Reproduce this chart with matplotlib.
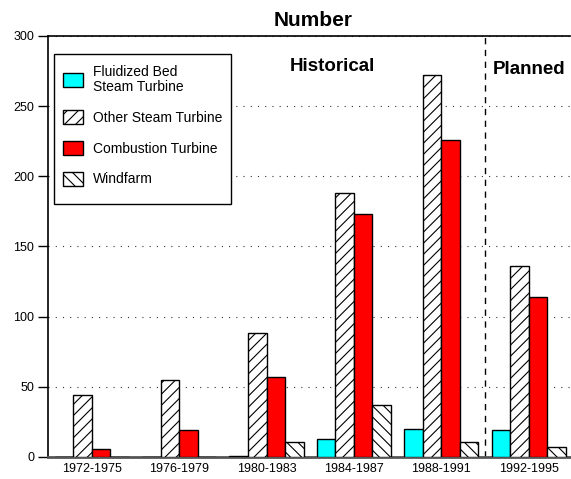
import matplotlib.pyplot as plt
import numpy as np
from matplotlib.patches import Rectangle

plt.rcParams['font.family'] = ['Liberation Sans', 'DejaVu Sans']
plt.rcParams['hatch.linewidth'] = 0.8

periods = ['1972-1975', '1976-1979', '1980-1983', '1984-1987', '1988-1991', '1992-1995']
fluidized = [0, 0, 1, 13, 20, 19]
other_steam = [44, 55, 88, 188, 272, 136]
combustion = [6, 19, 57, 173, 226, 114]
windfarm = [0, 0, 11, 37, 11, 7]

series = [
    ('Fluidized Bed\nSteam Turbine', fluidized, '#00ffff', None),
    ('Other Steam Turbine', other_steam, 'white', '///'),
    ('Combustion Turbine', combustion, '#ff0000', None),
    ('Windfarm', windfarm, 'white', '\\\\\\'),
]

fig = plt.figure(figsize=(5.71, 4.79), dpi=100)
ax = fig.add_axes([0.084, 0.046, 0.914, 0.879])

x = np.arange(len(periods))
width = 0.212
for i, (label, vals, color, hatch) in enumerate(series):
    ax.bar(x + (i - 1.5) * width, vals, width, color=color, hatch=hatch,
           edgecolor='black', linewidth=1.0, label=label, zorder=3)

ax.set_xlim(-0.5, 5.47)
ax.set_ylim(0, 300)
ax.set_yticks(range(0, 301, 50))
ax.set_xticks(x)
ax.set_xticklabels(periods, fontsize=9)
ax.tick_params(axis='x', length=0, pad=4)
ax.tick_params(axis='y', length=7, width=1, labelsize=9, pad=3)

ax.yaxis.grid(True, linestyle=(0, (1, 5.5)), color='#333333', linewidth=0.8, zorder=1)
ax.spines['right'].set_visible(False)
ax.spines['top'].set_linewidth(1.2)
ax.spines['left'].set_linewidth(1.2)
ax.spines['bottom'].set_color('#555555')
ax.spines['bottom'].set_linewidth(2)

ax.axvline(4.5, color='black', linestyle=(0, (4.5, 4)), linewidth=1, zorder=2)

ax.set_title('Number', fontsize=15, fontweight='bold', pad=7, x=0.5086)
ax.text(2.75, 278, 'Historical', fontsize=13.5, fontweight='bold', ha='center', va='center')
ax.text(5.0, 276, 'Planned', fontsize=13.5, fontweight='bold', ha='center', va='center')

# legend frame drawn by hand so its padding matches the original box
frame = Rectangle((0.0115, 0.601), 0.339, 0.356, transform=ax.transAxes,
                  facecolor='white', edgecolor='black', linewidth=1, zorder=4,
                  clip_on=False)
ax.add_patch(frame)

leg = ax.legend(loc='upper left', bbox_to_anchor=(0.0287, 0.931), borderaxespad=0,
                fontsize=10, frameon=False, handlelength=1.44, handleheight=1.22,
                labelspacing=1.15, borderpad=0, handletextpad=0.72)
for t in leg.get_texts():
    t.set_linespacing(1.08)
leg.set_zorder(5)

fig.savefig('out.png', dpi=100)
